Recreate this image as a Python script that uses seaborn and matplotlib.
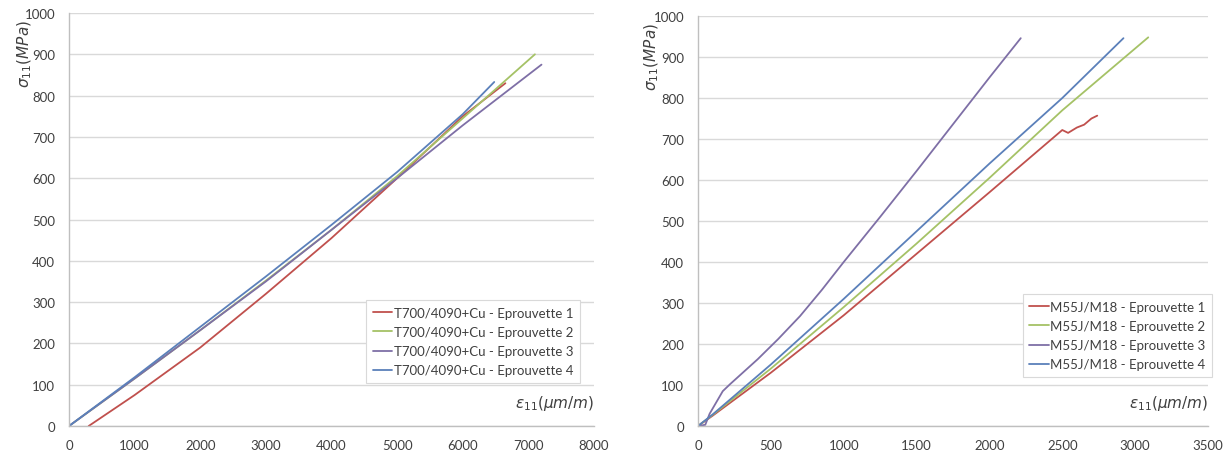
import matplotlib
matplotlib.use("Agg")
import matplotlib.pyplot as plt
import seaborn as sns
import pandas as pd

# ---- Left chart data: T700/4090+Cu ----
left_names = ["T700/4090+Cu - Eprouvette 1", "T700/4090+Cu - Eprouvette 2",
              "T700/4090+Cu - Eprouvette 3", "T700/4090+Cu - Eprouvette 4"]
l1_eps = [300, 1000, 2000, 3000, 4000, 5000, 6000, 6650]
l1_sig = [0, 75, 190, 320, 455, 600, 750, 830]
l2_eps = [0, 1000, 2000, 3000, 4000, 5000, 6000, 7100]
l2_sig = [0, 115, 232, 352, 475, 605, 745, 900]
l3_eps = [0, 1000, 2000, 3000, 4000, 5000, 6000, 7200]
l3_sig = [0, 115, 232, 350, 475, 600, 728, 875]
l4_eps = [0, 1000, 2000, 3000, 4000, 5000, 6000, 6480]
l4_sig = [0, 118, 240, 362, 487, 615, 755, 833]

# ---- Right chart data: M55J/M18 ----
right_names = ["M55J/M18 - Eprouvette 1", "M55J/M18 - Eprouvette 2",
               "M55J/M18 - Eprouvette 3", "M55J/M18 - Eprouvette 4"]
r1_eps = [0, 100, 500, 1000, 1500, 2000, 2500, 2540, 2600, 2650, 2700, 2740]
r1_sig = [0, 25, 130, 270, 420, 570, 722, 715, 728, 735, 750, 757]
r2_eps = [0, 100, 500, 1000, 1500, 2000, 2500, 3090]
r2_sig = [0, 27, 140, 290, 445, 605, 770, 948]
r3_eps = [0, 50, 80, 170, 220, 410, 550, 700, 850, 1000, 1250, 1500, 1750, 2000, 2215]
r3_sig = [0, 3, 30, 85, 102, 163, 212, 268, 332, 400, 510, 622, 736, 850, 946]
r4_eps = [0, 100, 500, 1000, 1500, 2000, 2500, 2920]
r4_sig = [0, 28, 150, 310, 475, 640, 800, 946]

left_ticks_x = [0, 1000, 2000, 3000, 4000, 5000, 6000, 7000, 8000]
right_ticks_x = [0, 500, 1000, 1500, 2000, 2500, 3000, 3500]
y_ticks = [0, 100, 200, 300, 400, 500, 600, 700, 800, 900, 1000]

colors = ["#C0504D", "#A5C266", "#7E6FA6", "#5B80BA"]


def build(names, series):
    rows = []
    for name, (e, s) in zip(names, series):
        for i, (a, b) in enumerate(zip(e, s)):
            rows.append({"eps": a, "sig": b, "serie": name, "order": i})
    return pd.DataFrame(rows)


df_l = build(left_names, [(l1_eps, l1_sig), (l2_eps, l2_sig), (l3_eps, l3_sig), (l4_eps, l4_sig)])
df_r = build(right_names, [(r1_eps, r1_sig), (r2_eps, r2_sig), (r3_eps, r3_sig), (r4_eps, r4_sig)])

sns.set_theme(style="white")
plt.rcParams["font.family"] = ["Lato", "DejaVu Sans"]

fig = plt.figure(figsize=(12.28, 4.52), dpi=100)
ax1 = fig.add_axes([0.0562, 0.0553, 0.4275, 0.9137])
ax2 = fig.add_axes([0.5684, 0.0553, 0.4153, 0.9070])


def style(ax, df, names, xticks, xmax, leg_anchor):
    sns.lineplot(data=df, x="eps", y="sig", hue="serie", hue_order=names,
                 palette=colors, sort=False, estimator=None, units="serie",
                 linewidth=1.3, ax=ax, legend=True)
    ax.set_xlim(0, xmax)
    ax.set_ylim(0, 1000)
    ax.set_xticks(xticks)
    ax.set_yticks(y_ticks)
    ax.set_xlabel("")
    ax.set_ylabel("")
    ax.grid(axis="y", color="#D9D9D9", linewidth=1.0)
    ax.grid(axis="x", visible=False)
    ax.set_axisbelow(True)
    for sp in ["top", "right"]:
        ax.spines[sp].set_visible(False)
    for sp in ["left", "bottom"]:
        ax.spines[sp].set_color("#BFBFBF")
        ax.spines[sp].set_linewidth(1.0)
    ax.tick_params(axis="both", labelsize=9.5, colors="#404040",
                   length=4, width=0.8, direction="out", pad=6)
    ax.tick_params(axis="both", color="#BFBFBF")
    ax.tick_params(axis="x", direction="inout", length=6)
    leg = ax.legend(loc="lower right", bbox_to_anchor=leg_anchor,
                    borderaxespad=0, frameon=True, fancybox=False,
                    fontsize=9.5, handlelength=1.5, handletextpad=0.1,
                    labelspacing=0.55, borderpad=0.5)
    leg.get_frame().set_edgecolor("#D9D9D9")
    leg.get_frame().set_linewidth(0.8)
    leg.get_frame().set_facecolor("white")
    leg.get_frame().set_alpha(1.0)
    for t in leg.get_texts():
        t.set_color("#404040")


style(ax1, df_l, left_names, left_ticks_x, 8000, (0.973, 0.104))
style(ax2, df_r, right_names, right_ticks_x, 3500, (1.008, 0.1195))

for ax in (ax1, ax2):
    ax.text(-0.085 if ax is ax1 else -0.09, 0.985, r"$\sigma_{11}(MPa)$",
            transform=ax.transAxes, rotation=90, ha="center", va="top",
            fontsize=11, color="#404040")
    ax.text(1.0, 0.035, r"$\varepsilon_{11}(\mu m/m)$", transform=ax.transAxes,
            ha="right", va="bottom", fontsize=11, color="#404040")

fig.savefig("out.png", dpi=100, facecolor="white")
